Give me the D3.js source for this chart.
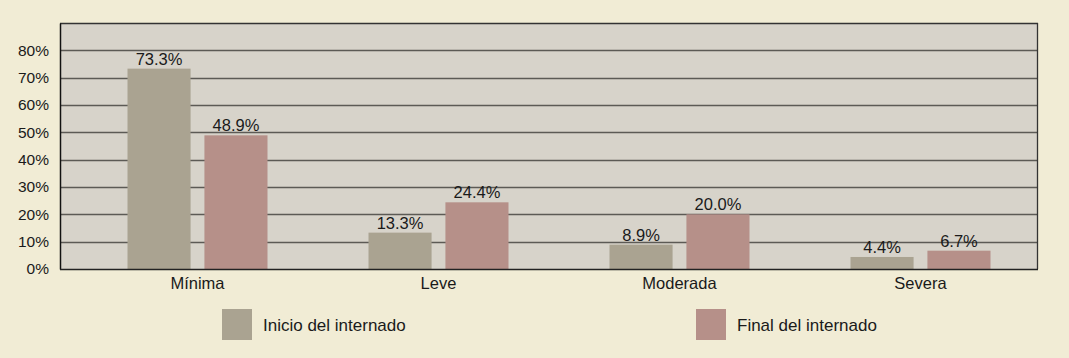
<!DOCTYPE html>
<html>
<head>
<meta charset="utf-8">
<script src="https://cdn.jsdelivr.net/npm/d3@7"></script>
<style>
  body { margin: 0; background: #f1ecd5; }
  text { font-family: "Liberation Sans", Arial, sans-serif; fill: #1a1a1a; }
</style>
</head>
<body>
<div id="chart"></div>
<script>
var categories = ["Mínima", "Leve", "Moderada", "Severa"];
var series = ["Inicio del internado", "Final del internado"];
var inicio = [73.3, 13.3, 8.9, 4.4];
var final = [48.9, 24.4, 20.0, 6.7];
var yTicks = [0, 10, 20, 30, 40, 50, 60, 70, 80];
var colors = ["#aaa391", "#b69089"];

var width = 1069,
    height = 358;

var svg = d3.select("#chart").append("svg")
    .attr("width", width)
    .attr("height", height);

var plot = { left: 60, right: 1038, top: 23, bottom: 269 };

var y = d3.scaleLinear().domain([0, 90]).range([plot.bottom, plot.top]);
var x = d3.scaleBand().domain(categories).range([77, 1041]);
var x1 = d3.scaleBand().domain(series)
    .range([x.bandwidth() / 2 - 70, x.bandwidth() / 2 + 70])
    .paddingInner(0.18);

// plot background
svg.append("rect")
    .attr("x", plot.left).attr("y", plot.top)
    .attr("width", plot.right - plot.left)
    .attr("height", plot.bottom - plot.top)
    .attr("fill", "#d7d3ca");

// gridlines
svg.selectAll(".grid")
    .data(yTicks.slice(1))
    .enter().append("line")
    .attr("x1", plot.left).attr("x2", plot.right)
    .attr("y1", function(d) { return Math.round(y(d)) + 0.5; })
    .attr("y2", function(d) { return Math.round(y(d)) + 0.5; })
    .style("stroke", "#5c5a55")
    .style("stroke-width", 1.3);

// bars
var rows = categories.map(function(c, i) { return { cat: c, vals: [inicio[i], final[i]] }; });

var groups = svg.selectAll(".group")
    .data(rows)
    .enter().append("g")
    .attr("transform", function(d) { return "translate(" + x(d.cat) + ",0)"; });

groups.selectAll("rect")
    .data(function(d) { return d.vals.map(function(v, j) { return { s: series[j], v: v, j: j }; }); })
    .enter().append("rect")
    .attr("x", function(d) { return x1(d.s); })
    .attr("width", x1.bandwidth())
    .attr("y", function(d) { return y(d.v); })
    .attr("height", function(d) { return plot.bottom - y(d.v); })
    .attr("fill", function(d) { return colors[d.j]; });

groups.selectAll(".lbl")
    .data(function(d) { return d.vals.map(function(v, j) { return { s: series[j], v: v }; }); })
    .enter().append("text")
    .attr("x", function(d) { return x1(d.s) + x1.bandwidth() / 2; })
    .attr("y", function(d) { return y(d.v) - 4; })
    .attr("text-anchor", "middle")
    .style("font-size", "16.5px")
    .text(function(d) { return d.v.toFixed(1) + "%"; });

// frame
svg.append("line").attr("x1", plot.left).attr("x2", plot.right)
    .attr("y1", plot.top + 0.5).attr("y2", plot.top + 0.5)
    .style("stroke", "#333").style("stroke-width", 1.3);
svg.append("line").attr("x1", plot.right - 0.5).attr("x2", plot.right - 0.5)
    .attr("y1", plot.top).attr("y2", plot.bottom)
    .style("stroke", "#333").style("stroke-width", 1.3);

// axes
var yAxis = d3.axisLeft(y).tickValues(yTicks).tickSize(0).tickPadding(11)
    .tickFormat(function(d) { return d + "%"; });
var gy = svg.append("g").attr("transform", "translate(" + plot.left + ",0)").call(yAxis);
gy.select(".domain").style("stroke", "#111").style("stroke-width", 1.5);
gy.selectAll("text").style("font-size", "15.5px").style("fill", "#1a1a1a");

var xAxis = d3.axisBottom(x).tickSize(0).tickPadding(8);
var gx = svg.append("g").attr("transform", "translate(0," + plot.bottom + ")").call(xAxis);
gx.select(".domain").remove();
gx.append("line").attr("x1", plot.left).attr("x2", plot.right)
    .attr("y1", 0.5).attr("y2", 0.5)
    .style("stroke", "#222").style("stroke-width", 1.5);
gx.selectAll("text").style("font-size", "16.5px").style("fill", "#1a1a1a");

// legend
var legendX = [222, 696];
var legend = svg.selectAll(".legend")
    .data(series)
    .enter().append("g")
    .attr("transform", function(d, i) { return "translate(" + legendX[i] + ",309)"; });
legend.append("rect")
    .attr("width", 30).attr("height", 31)
    .attr("fill", function(d, i) { return colors[i]; });
legend.append("text")
    .attr("x", 41).attr("y", 16)
    .attr("dy", "0.35em")
    .style("font-size", "17px")
    .text(function(d) { return d; });
</script>
</body>
</html>
